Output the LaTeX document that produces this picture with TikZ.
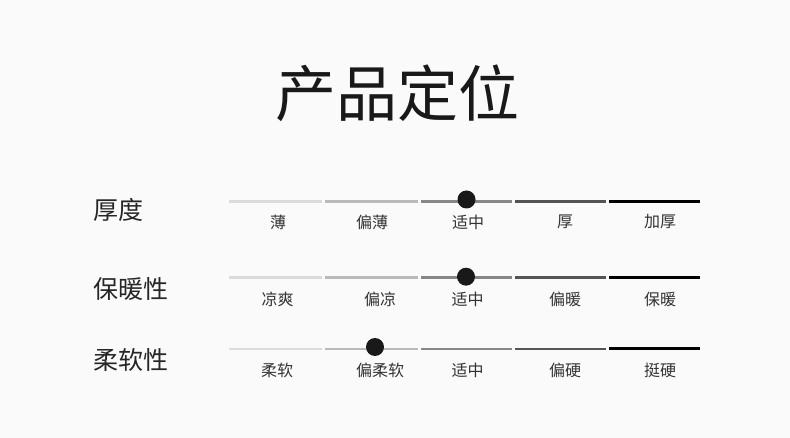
\documentclass[tikz,border=0pt]{standalone}
\usepackage{fontspec}
\usepackage{xcolor}
\setmainfont{Noto Sans CJK SC}
\usetikzlibrary{positioning}

\begin{document}
\begin{tikzpicture}[x=1pt, y=-1pt,
                    seg/.style={line width=2.4pt},
                    lab/.style={font=\fontsize{16}{16}\selectfont, text=black!80},
                    rowtitle/.style={font=\fontsize{25}{25}\selectfont, anchor=west, text=black!85},
                    knob/.style={circle, fill=black!90, minimum size=18pt, inner sep=0pt}]
\fill[black!2] (0,0) rectangle (790,438);
\useasboundingbox (0,0) rectangle (790,438);
\node[font=\fontsize{61}{61}\selectfont, text=black!90] (title) at (397,93) {产品定位};
% thickness
\node[rowtitle] (r1) at (90,210) {厚度};
\draw[seg, black!14] (229,201.5) -- (322,201.5);
\draw[seg, black!27] (325,201.5) -- (418,201.5);
\draw[seg, black!47] (421,201.5) -- (512,201.5);
\draw[seg, black!67] (515,201.5) -- (606,201.5);
\draw[seg, black, line width=3pt] (609,201.5) -- (700,201.5);
\node[lab] (r1a) at (278,222) {薄};
\node[lab] (r1b) at (372,222) {偏薄};
\node[lab] (r1c) at (468,222) {适中};
\node[lab] (r1d) at (565,222) {厚};
\node[lab] (r1e) at (660,222) {加厚};
\node[knob] (k1) at (466.5,199.5) {};
% warmth
\node[rowtitle] (r2) at (90,289) {保暖性};
\draw[seg, black!14] (229,277.7) -- (322,277.7);
\draw[seg, black!27] (325,277.7) -- (418,277.7);
\draw[seg, black!47] (421,277.7) -- (512,277.7);
\draw[seg, black!67] (515,277.7) -- (606,277.7);
\draw[seg, black, line width=3pt] (609,277.7) -- (700,277.7);
\node[lab] (r2a) at (277.5,299) {凉爽};
\node[lab] (r2b) at (380,299) {偏凉};
\node[lab] (r2c) at (467.5,299) {适中};
\node[lab] (r2d) at (565,299) {偏暖};
\node[lab] (r2e) at (660,299) {保暖};
\node[knob] (k2) at (466,276.7) {};
% softness
\node[rowtitle] (r3) at (90,360) {柔软性};
\draw[seg, black!14] (229,349) -- (322,349);
\draw[seg, black!27] (325,349) -- (418,349);
\draw[seg, black!47] (421,349) -- (512,349);
\draw[seg, black!67] (515,349) -- (606,349);
\draw[seg, black, line width=3pt] (609,349) -- (700,349);
\node[lab] (r3a) at (277,370) {柔软};
\node[lab] (r3b) at (380,370) {偏柔软};
\node[lab] (r3c) at (467.5,370) {适中};
\node[lab] (r3d) at (565,370) {偏硬};
\node[lab] (r3e) at (660,370) {挺硬};
\node[knob] (k3) at (375,347) {};
\end{tikzpicture}
\end{document}
